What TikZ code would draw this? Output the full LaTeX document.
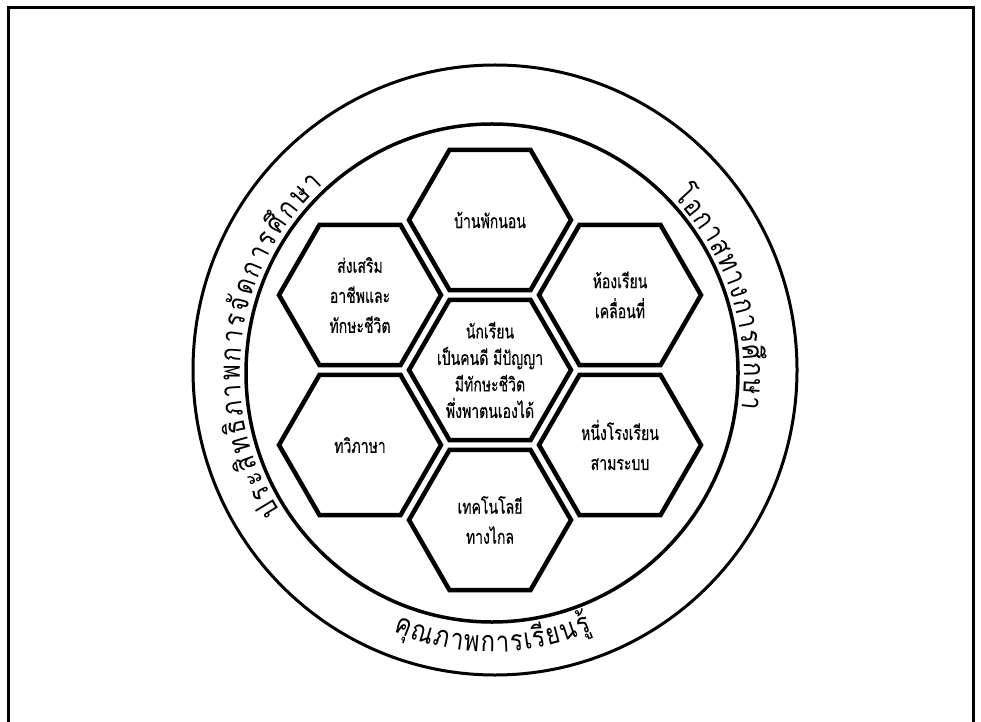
\documentclass[tikz,border=0pt]{standalone}
\usepackage{fontspec}
\newfontfamily\thaifont[Script=Thai, FakeStretch=0.72, FakeBold=0.4]{Loma}
\newfontfamily\ringthai[Script=Thai, FakeStretch=0.82]{Loma}
\newcommand\ringfont{\ringthai\fontsize{29}{31}\selectfont}
\usetikzlibrary{decorations.text}
\tikzset{
  hexline/.style={line width=4.5pt, line join=miter},
  hexlabel/.style={font=\thaifont\fontsize{19.5}{30}\selectfont, align=center, inner sep=0pt},
  hexlabelc/.style={font=\thaifont\fontsize{19.5}{26.5}\selectfont, align=center, inner sep=0pt},
  ringtext/.style={decorate, decoration={text along path, text align={fit to path}, text={#1}}},
}
\begin{document}
\begin{tikzpicture}[x=1pt,y=1pt]
\useasboundingbox (0,0) rectangle (981,721);
\fill[white] (0,0) rectangle (981,721);
\draw[line width=3pt] (8,-5) -- (8,713.5) -- (973,713.5) -- (973,-5);

% ellipses
\coordinate (oc) at (495,351);
\coordinate (ic) at (492,348);
\draw[line width=3pt] (oc) ellipse[x radius=302, y radius=305];
\draw[line width=3.5pt] (ic) ellipse[x radius=246, y radius=249];

% hexagon centres
\coordinate (hC) at (490,351);
\coordinate (hT) at (490,501);
\coordinate (hB) at (490,201);
\coordinate (hUL) at (360,426);
\coordinate (hUR) at (620,426);
\coordinate (hLL) at (360,276);
\coordinate (hLR) at (620,276);

\foreach \c in {hC,hT,hB,hUL,hUR,hLL,hLR}
  \draw[hexline] (\c) ++(0:81) -- ++(120:81) -- ++(180:81) -- ++(240:81) -- ++(300:81) -- ++(0:81) -- cycle;

\node[hexlabelc] (tC) at (hC) {นักเรียน\\เป็นคนดี มีปัญญา\\มีทักษะชีวิต\\พึ่งพาตนเองได้};
\node[hexlabel] (tT) at (hT) {บ้านพักนอน};
\node[hexlabel] (tB) at (hB) {เทคโนโลยี\\ทางไกล};
\node[hexlabel] (tUL) at (hUL) {ส่งเสริม\\อาชีพและ\\ทักษะชีวิต};
\node[hexlabel] (tUR) at (hUR) {ห้องเรียน\\เคลื่อนที่};
\node[hexlabel] (tLL) at (hLL) {ทวิภาษา};
\node[hexlabel] (tLR) at (hLR) {หนึ่งโรงเรียน\\สามระบบ};

% ring texts
\path[ringtext={|\ringfont|{ป}{ร}{ะ}{สิ}{ท}{ธิ}{ภ}{า}{พ}{ก}{า}{ร}{จั}{ด}{ก}{า}{ร}{ศึ}{ก}{ษ}{า}}]
  ([shift={(492,348)}]213:252 and 254) arc[start angle=213, end angle=132, x radius=252, y radius=254];
\path[ringtext={|\ringfont|{โ}{อ}{ก}{า}{ส}{ท}{า}{ง}{ก}{า}{ร}{ศึ}{ก}{ษ}{า}}]
  ([shift={(492,348)}]44:252 and 254) arc[start angle=44, end angle=-8, x radius=252, y radius=254];
\path[ringtext={|\ringfont|{คุ}{ณ}{ภ}{า}{พ}{ก}{า}{ร}{เ}{รี}{ย}{น}}]
  ([shift={(492,348)}]248:262 and 279) arc[start angle=248, end angle=289.3, x radius=262, y radius=279];
\node[font=\ringfont, inner sep=0pt, anchor=base west, rotate=21.2] (ru) at ([shift={(492,348)}]289.8:262 and 279) {รู้};
\end{tikzpicture}
\end{document}
